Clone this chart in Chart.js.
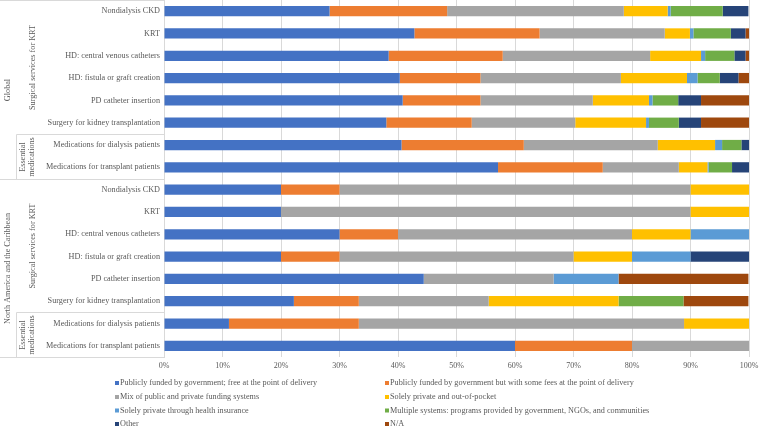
<!DOCTYPE html>
<html>
<head>
<meta charset="utf-8">
<script src="https://cdn.jsdelivr.net/npm/chart.js@4"></script>
<style>
  html, body { margin: 0; padding: 0; background: #fff; }
  #wrap { position: relative; width: 759px; height: 429px; }
</style>
</head>
<body>
<div id="wrap"><canvas id="chart"></canvas></div>
<script>
// row labels, top to bottom
const categories = [
  'Nondialysis CKD', 'KRT', 'HD: central venous catheters', 'HD: fistula or graft creation',
  'PD catheter insertion', 'Surgery for kidney transplantation',
  'Medications for dialysis patients', 'Medications for transplant patients',
  'Nondialysis CKD', 'KRT', 'HD: central venous catheters', 'HD: fistula or graft creation',
  'PD catheter insertion', 'Surgery for kidney transplantation',
  'Medications for dialysis patients', 'Medications for transplant patients'
];

// outer groups and inner groups: [label, first row, last row]
const regions = [['Global', 0, 7], ['North America and the Caribbean', 8, 15]];
const subGroups = [
  [['Surgical services for KRT'], 0, 5], [['Essential', 'medications'], 6, 7],
  [['Surgical services for KRT'], 8, 13], [['Essential', 'medications'], 14, 15]
];

const seriesNames = [
  'Publicly funded by government; free at the point of delivery',
  'Publicly funded by government but with some fees at the point of delivery',
  'Mix of public and private funding systems',
  'Solely private and out-of-pocket',
  'Solely private through health insurance',
  'Multiple systems: programs provided by government, NGOs, and communities',
  'Other',
  'N/A'
];

// percentages per row
const publicFree  = [28.3, 42.8, 38.4, 40.3, 40.8, 38.0, 40.6, 57.1, 20, 20, 30, 20, 44.4, 22.2, 11.1, 60];
const publicFees  = [20.1, 21.4, 19.5, 13.8, 13.3, 14.6, 20.9, 17.9, 10, 0, 10, 10, 0, 11.1, 22.2, 20];
const mixed       = [30.2, 21.4, 25.2, 24.0, 19.2, 17.7, 22.9, 13.0, 60, 70, 40, 40, 22.2, 22.2, 55.6, 20];
const outOfPocket = [7.5, 4.3, 8.7, 11.3, 9.6, 12.1, 9.8, 4.9, 10, 10, 10, 10, 0, 22.2, 11.1, 0];
const insurance   = [0.5, 0.6, 0.7, 1.8, 0.6, 0.5, 1.2, 0.2, 0, 0, 10, 10, 11.1, 0, 0, 0];
const multiple    = [8.9, 6.4, 5.0, 3.8, 4.4, 5.1, 3.3, 4.0, 0, 0, 0, 0, 0, 11.1, 0, 0];
const other       = [4.4, 2.5, 1.9, 3.2, 3.9, 3.8, 1.3, 2.9, 0, 0, 0, 10, 0, 0, 0, 0];
const notApplic   = [0, 0.6, 0.6, 1.8, 8.2, 8.2, 0, 0, 0, 0, 0, 0, 22.2, 11.1, 0, 0];

const xTicks = [0, 10, 20, 30, 40, 50, 60, 70, 80, 90, 100];

const seriesValues = [publicFree, publicFees, mixed, outOfPocket, insurance, multiple, other, notApplic];
const colors = ['#4472C4', '#ED7D31', '#A5A5A5', '#FFC000', '#5B9BD5', '#70AD47', '#264478', '#9E480E'];

const FONT = '"Liberation Serif", "Times New Roman", serif';
const TEXT = '#595959';
const LINE = '#D9D9D9';

// multi-level category labels drawn left of the plot
const leftLabels = {
  id: 'leftLabels',
  afterDraw(chart) {
    const ctx = chart.ctx;
    const y = chart.scales.y;
    const left = chart.chartArea.left;
    const half = (y.getPixelForValue(1) - y.getPixelForValue(0)) / 2;
    const top = i => Math.round(y.getPixelForValue(i) - half) + 0.5;
    const bot = i => Math.round(y.getPixelForValue(i) + half) + 0.5;
    ctx.save();
    ctx.font = '8.2px ' + FONT;
    ctx.fillStyle = TEXT;
    ctx.textBaseline = 'middle';

    // row labels
    ctx.textAlign = 'right';
    categories.forEach((c, i) => ctx.fillText(c, left - 4, y.getPixelForValue(i)));

    // separators
    ctx.strokeStyle = LINE;
    ctx.lineWidth = 1;
    ctx.beginPath();
    regions.forEach(r => {
      ctx.moveTo(0, top(r[1])); ctx.lineTo(left, top(r[1]));
      ctx.moveTo(0, bot(r[2])); ctx.lineTo(left, bot(r[2]));
    });
    subGroups.forEach((g, k) => {
      if (k % 2 === 1) {
        ctx.moveTo(16.5, top(g[1])); ctx.lineTo(left, top(g[1]));
        ctx.moveTo(16.5, top(g[1])); ctx.lineTo(16.5, bot(g[2]));
      }
    });
    ctx.stroke();

    // rotated group labels
    ctx.textAlign = 'center';
    const vText = (txt, x, cy) => {
      ctx.save();
      ctx.translate(x, cy);
      ctx.rotate(-Math.PI / 2);
      ctx.fillText(txt, 0, 0);
      ctx.restore();
    };
    regions.forEach(r => vText(r[0], 8, (top(r[1]) + bot(r[2])) / 2));
    subGroups.forEach(g => {
      const cy = (top(g[1]) + bot(g[2])) / 2;
      if (g[0].length === 1) vText(g[0][0], 33, cy);
      else { vText(g[0][0], 23, cy); vText(g[0][1], 32, cy); }
    });
    ctx.restore();
  }
};

// two-column legend under the axis
const bottomLegend = {
  id: 'bottomLegend',
  afterDraw(chart) {
    const ctx = chart.ctx;
    ctx.save();
    ctx.font = '8.2px ' + FONT;
    ctx.textBaseline = 'middle';
    ctx.textAlign = 'left';
    const colX = [115, 385];
    const rowY = [383, 397, 410.5, 424];
    chart.data.datasets.forEach((ds, i) => {
      const x = colX[i % 2], yy = rowY[Math.floor(i / 2)];
      ctx.fillStyle = ds.backgroundColor;
      ctx.fillRect(x, yy - 2, 4, 4);
      ctx.fillStyle = TEXT;
      ctx.fillText(ds.label, x + 5, yy);
    });
    ctx.restore();
  }
};

new Chart(document.getElementById('chart'), {
  type: 'bar',
  data: {
    labels: categories,
    datasets: seriesNames.map((name, i) => ({
      label: name,
      data: seriesValues[i],
      backgroundColor: colors[i],
      borderWidth: 0,
      barPercentage: 0.46,
      categoryPercentage: 1
    }))
  },
  options: {
    indexAxis: 'y',
    responsive: true,
    maintainAspectRatio: false,
    animation: false,
    layout: { padding: { left: 164, right: 10, top: 0, bottom: 60 } },
    plugins: { legend: { display: false }, tooltip: { enabled: false } },
    scales: {
      x: {
        stacked: true,
        min: 0,
        max: 100,
        afterBuildTicks: s => { s.ticks = xTicks.map(v => ({ value: v })); },
        afterFit: s => { s.height = 12; s.paddingLeft = 0; s.paddingRight = 0; },
        grid: { color: LINE, drawTicks: false },
        border: { display: false },
        ticks: { padding: 4, color: TEXT, font: { family: FONT, size: 8 }, callback: v => v + '%' }
      },
      y: {
        stacked: true,
        afterFit: s => { s.width = 0; },
        grid: { display: false },
        border: { display: true, color: LINE },
        ticks: { display: false }
      }
    }
  },
  plugins: [leftLabels, bottomLegend]
});
</script>
</body>
</html>
